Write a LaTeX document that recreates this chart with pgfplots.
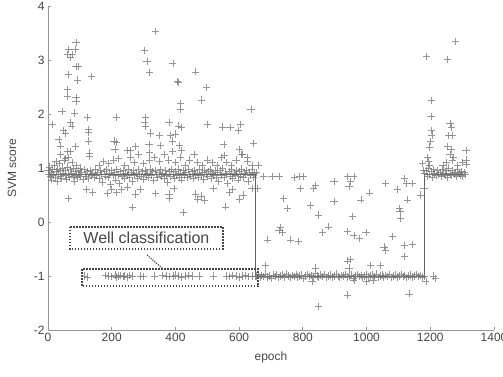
\documentclass[border=0pt]{standalone}
\usepackage{fontspec}
\setmainfont{Liberation Sans}
\usepackage{pgfplots}
\pgfplotsset{compat=1.18}
\definecolor{markgray}{RGB}{115,115,115}
\definecolor{axisgray}{RGB}{150,150,150}
\definecolor{labelgray}{RGB}{70,70,70}
\definecolor{stepgray}{RGB}{95,95,95}
\begin{document}
\begin{tikzpicture}
\begin{axis}[
  name=ax, at={(0,0)}, anchor=south west,
  scale only axis, width=446pt, height=324pt,
  xmin=0, xmax=1400, ymin=-2, ymax=4,
  axis x line=bottom, axis y line=left,
  axis line style={-, draw=axisgray, line width=0.9pt},
  xtick={0,200,400,600,800,1000,1200,1400},
  ytick={-2,-1,0,1,2,3,4},
  tick align=inside, major tick length=3pt,
  tick style={draw=axisgray, line width=0.8pt},
  ticklabel style={font=\fontsize{12}{12}\selectfont, text=labelgray},
  /pgf/number format/assume math mode=true,
  /pgf/number format/set thousands separator={},
  xlabel={epoch}, ylabel={SVM score},
  label style={font=\fontsize{12}{12}\selectfont, text=labelgray},
  xlabel style={at={(axis description cs:0.5,0)}, anchor=center, yshift=-27pt},
  ylabel style={at={(axis description cs:-0.081,0.5)}, anchor=center},
  clip=false,
]
% step line
\addplot[stepgray, line width=1pt] coordinates {(0,0.88) (650,0.88) (650,-1.0) (1183,-1.0) (1183,0.88) (1310,0.88)};
% scatter
\addplot[only marks, mark=+, mark size=3.6pt, mark options={draw=markgray, line width=0.65pt, opacity=0.75}] coordinates {
(0,0.95) (3,0.88) (5,1.02) (8,0.84) (10,0.92) (12,0.78) (15,0.98) (18,0.87) (20,1.05) (23,0.82) (25,0.93) (28,0.75) (30,0.97) (33,0.89) (35,1.08) (38,0.85) (40,0.95) (43,0.80) (45,1.0) (48,0.91) (50,1.15) (53,0.86) (55,0.96) (58,0.79) (60,1.02) (63,0.88) (65,1.20) (68,0.83) (70,0.97) (73,0.90) (75,1.1) (78,0.85) (80,0.99) (83,0.76) (85,0.93) (88,0.87) (90,1.05) (93,0.82) (95,0.95) (98,0.88) (100,1.0) (103,0.84) (106,0.92) (110,0.79) (113,0.97) (116,0.88) (120,0.85) (124,0.93) (128,0.81) (132,0.96) (136,0.87) (140,0.90) (144,0.83) (148,0.97) (152,0.86) (156,0.92) (160,0.80) (164,0.95) (168,0.88) (172,0.74) (176,0.93) (180,0.85) (184,0.97) (188,0.82) (192,0.90) (196,0.70) (200,0.95) (204,0.86) (208,0.92) (212,0.78) (216,0.97) (220,0.87) (224,0.72) (228,0.93) (232,0.84) (236,0.96) (240,0.80) (244,0.91) (248,0.87) (252,0.98) (256,0.83) (260,0.92) (264,0.76) (268,0.95) (272,0.86) (276,0.90) (280,0.81) (284,0.97) (288,0.88) (292,0.84) (296,0.93) (300,0.79) (304,0.96) (308,0.87) (312,0.91) (316,0.82) (320,0.98) (324,0.86) (328,0.93) (332,0.77) (336,0.95) (340,0.88) (344,0.83) (348,0.92) (352,0.97) (356,0.85) (360,0.90) (364,0.80) (368,0.96) (372,0.87) (376,0.73) (380,0.93) (384,0.84) (388,0.97) (392,0.89) (396,0.81) (400,0.94) (404,0.86) (408,0.98) (412,0.83) (416,0.91) (420,0.78) (424,0.95) (428,0.87) (432,0.92) (436,0.82) (440,0.97) (444,0.88) (448,0.85) (452,0.93) (456,0.80) (460,0.96) (464,0.87) (468,0.91) (472,0.83) (476,0.98) (480,0.86) (484,0.92) (488,0.79) (492,0.95) (496,0.88) (500,0.84) (504,0.93) (508,0.97) (512,0.81) (516,0.90) (520,0.87) (524,0.96) (528,0.82) (532,0.92) (536,0.75) (540,0.95) (544,0.86) (548,0.99) (552,0.83) (556,0.91) (560,0.88) (564,0.72) (568,0.94) (572,0.85) (576,0.97) (580,0.80) (584,0.90) (588,0.87) (592,0.96) (596,0.78) (600,0.93) (604,0.85) (608,0.98) (612,0.82) (616,0.91) (620,0.88) (624,0.95) (628,0.76) (632,0.92) (636,0.86) (640,0.97) (644,0.83) (648,0.90)
(25,1.12) (40,1.25) (55,1.18) (70,1.3) (160,1.05) (175,1.12) (190,1.08) (205,1.15) (222,1.18) (240,1.05) (258,1.2) (270,1.1) (285,1.25) (300,1.08) (318,1.15) (335,1.2) (350,1.12) (365,1.25) (378,1.15) (390,1.3) (400,1.1) (415,1.2) (430,1.05) (445,1.15) (458,1.25) (470,1.1) (485,1.05) (500,1.15) (515,1.1) (530,1.05) (545,1.2) (560,1.1) (575,1.05) (590,1.15) (610,1.25) (625,1.12) (640,1.05)
(65,0.44) (120,0.6) (140,0.55) (186,0.53) (200,0.6) (215,0.55) (230,0.6) (250,0.65) (264,0.27) (275,0.52) (290,0.6) (338,0.53) (380,0.52) (382,0.43) (395,0.62) (426,0.18) (463,0.52) (470,0.42) (480,0.48) (490,0.40) (520,0.62) (558,0.28) (570,0.55) (580,0.6) (600,0.42) (612,0.5) (640,0.62)
(14,1.81) (34,1.53) (39,1.41) (49,1.69) (60,3.1) (65,3.2) (70,3.05) (76,3.1) (88,3.33) (85,3.2) (88,2.88) (94,2.88) (65,2.73) (93,2.63) (60,2.45) (60,2.33) (88,2.3) (88,2.24) (44,2.05) (84,2.02) (70,1.85) (75,1.78) (55,1.65) (86,1.4) (60,1.3) (123,1.93) (128,1.72) (126,1.66) (128,1.5) (130,1.28) (130,1.22) (137,2.69) (216,1.93) (207,1.5) (216,1.47) (210,1.35) (250,1.32) (259,1.32) (275,1.4) (338,3.53) (302,3.18) (311,2.97) (318,2.77) (306,1.93) (304,1.84) (306,1.77) (322,1.65) (317,1.44) (319,1.29) (350,1.6) (353,1.42) (392,2.93) (406,2.6) (409,2.58) (416,2.2) (415,2.09) (385,1.6) (380,1.85) (400,1.63) (410,1.78) (420,1.75) (390,1.5) (412,1.42) (418,1.33) (463,2.78) (481,2.26) (498,2.49) (500,1.81) (547,1.76) (571,1.75) (597,1.69) (605,1.8) (637,2.08) (644,1.45) (552,1.44) (555,1.23) (600,1.35) (608,1.25) (625,1.2)
(115,-1.0) (125,-1.02) (180,-0.99) (190,-1.0) (200,-1.01) (210,-0.98) (215,-1.02) (222,-1.0) (228,-0.99) (235,-1.01) (240,-1.0) (248,-1.02) (255,-0.99) (265,-1.0) (290,-1.0) (300,-1.01) (335,-1.0) (360,-0.99) (372,-1.0) (380,-1.01) (392,-1.0) (400,-0.98) (410,-1.0) (420,-1.02) (430,-1.0) (442,-0.99) (452,-1.0) (475,-1.0) (520,-1.0) (560,-1.0) (570,-1.01) (580,-0.99) (590,-1.0) (600,-1.02) (610,-1.0) (620,-0.99) (630,-1.01) (640,-1.0) (652,-1.0)
(655,-1.0) (660,-0.97) (665,-1.03) (670,-0.99) (676,-1.01) (682,-0.96) (688,-1.02) (694,-1.0) (700,-1.04) (706,-0.98) (712,-1.01) (718,-0.97) (724,-1.03) (730,-1.0) (736,-0.98) (742,-1.02) (748,-0.96) (754,-1.0) (760,-1.03) (766,-0.99) (772,-1.01) (778,-0.97) (784,-1.02) (790,-1.0) (796,-0.98) (802,-1.04) (808,-1.0) (814,-0.97) (820,-1.01) (826,-0.99) (832,-1.03) (838,-0.95) (844,-1.0) (850,-1.02) (856,-0.98) (862,-1.01) (868,-0.97) (874,-1.03) (880,-1.0) (886,-0.98) (892,-1.02) (898,-1.0) (904,-0.96) (910,-1.01) (916,-1.03) (922,-0.99) (928,-1.0) (934,-0.97) (940,-1.02) (946,-1.0) (952,-0.98) (958,-1.04) (964,-1.0) (970,-0.97) (976,-1.01) (982,-0.99) (988,-1.03) (994,-1.0) (1000,-0.97) (1006,-1.02) (1012,-1.0) (1018,-0.98) (1024,-1.01) (1030,-0.96) (1036,-1.03) (1042,-1.0) (1048,-0.98) (1054,-1.02) (1060,-0.99) (1066,-1.01) (1072,-0.97) (1078,-1.03) (1084,-1.0) (1090,-0.98) (1096,-1.02) (1102,-1.0) (1108,-0.97) (1114,-1.01) (1120,-0.99) (1126,-1.03) (1132,-1.0) (1138,-0.98) (1144,-1.02) (1150,-1.0) (1156,-0.97) (1162,-1.01) (1168,-0.99) (1174,-1.02) (1180,-1.0)
(677,0.84) (703,0.84) (725,0.84) (773,0.82) (790,0.84) (803,0.84) (793,0.62) (834,0.62) (840,0.68) (898,0.75) (940,0.84) (960,0.84) (950,0.75) (945,0.66) (1060,0.72) (1098,0.6) (1118,0.8) (1125,0.72) (1145,0.72) (1170,0.5) (1128,0.41) (1103,0.25) (1105,0.19) (1107,0.07) (740,0.44) (751,0.25) (824,0.31) (850,0.13) (898,0.38) (982,0.41) (1008,0.54) (955,0.1) (688,-0.33) (725,-0.15) (737,-0.2) (730,-0.1) (761,-0.33) (786,-0.36) (861,-0.2) (881,-0.09) (940,-0.18) (960,-0.25) (978,-0.3) (998,-0.2) (1081,-0.27) (1055,-0.46) (1060,-0.52) (1118,-0.43) (1118,-0.64) (1145,-0.41) (940,-0.72) (950,-0.7) (945,-0.85) (1013,-0.8) (1044,-0.8) (683,-0.8) (840,-0.85) (829,-1.1) (940,-1.35) (1133,-1.33) (850,-1.57) (1000,-1.1) (1020,-1.08) (960,-1.08) (1186,-1.1) (1217,-1.04) (1210,-1.0)
(655,0.92) (660,1.05) (658,0.62) (1178,0.95) (1176,1.08) (1180,0.62)
(1182,0.9) (1186,0.95) (1190,0.85) (1194,1.0) (1198,0.88) (1202,0.93) (1206,0.82) (1210,0.97) (1214,0.9) (1218,0.86) (1222,0.95) (1226,0.88) (1230,0.92) (1234,0.85) (1238,0.98) (1242,0.9) (1246,0.87) (1250,0.95) (1254,0.83) (1258,1.0) (1262,0.9) (1266,0.86) (1270,0.96) (1274,0.88) (1278,0.92) (1282,0.85) (1286,0.97) (1290,0.9) (1294,0.87) (1298,0.94) (1302,0.84) (1306,0.92) (1310,0.88)
(1280,3.35) (1189,3.07) (1254,3.01) (1204,2.25) (1202,1.95) (1203,1.7) (1205,1.61) (1200,1.49) (1198,1.39) (1262,1.83) (1266,1.76) (1258,1.6) (1270,1.6) (1255,1.4) (1265,1.35) (1262,1.25) (1272,1.2) (1270,1.15) (1312,1.33) (1312,1.15) (1314,1.06) (1190,1.2) (1195,1.13) (1198,1.05) (1250,1.1) (1240,1.05) (1285,1.05) (1300,1.1)
};
% annotations
\draw[labelgray, line width=1.6pt, dash pattern=on 1.6pt off 1.4pt] (axis cs:69,-0.09) rectangle (axis cs:549,-0.5);
\node[text=labelgray, font=\fontsize{16}{16}\selectfont] at (axis cs:309,-0.29) {Well classification};
\draw[labelgray, line width=1.6pt, dash pattern=on 1.6pt off 1.4pt] (axis cs:107,-0.87) rectangle (axis cs:660,-1.19);
\draw[labelgray, line width=1.2pt, dash pattern=on 1.2pt off 1.2pt] (axis cs:311,-0.61) -- (axis cs:361,-0.87);
\end{axis}
\pgfresetboundingbox
\path (-48pt,-46pt) rectangle (455pt,330pt);
\end{tikzpicture}
\end{document}
